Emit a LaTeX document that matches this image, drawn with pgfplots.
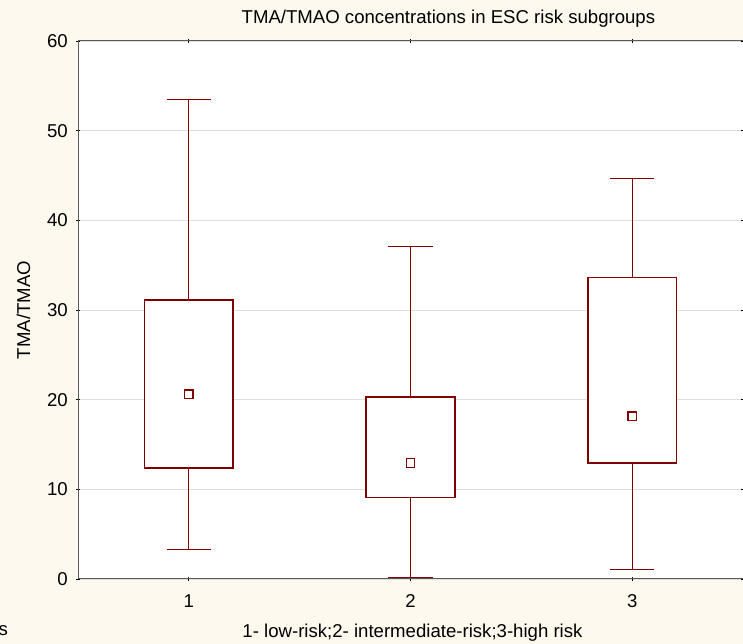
\documentclass[border=0pt]{standalone}
\usepackage{fontspec}
\setmainfont{Liberation Sans}
\usepackage{pgfplots}
\pgfplotsset{compat=1.18}
\usepgfplotslibrary{statistics}
\definecolor{bg}{RGB}{253,249,238}
\definecolor{boxred}{RGB}{128,0,0}
\definecolor{gridgray}{RGB}{222,222,222}
\definecolor{axgray}{RGB}{90,90,90}
\newcommand{\bigf}{\fontsize{18.6}{22}\selectfont}
\begin{document}
\begin{tikzpicture}
\fill[bg] (0,0) rectangle (743pt,644pt);
\begin{axis}[
  at={(78pt,65pt)}, anchor=south west,
  scale only axis, width=665pt, height=538pt,
  xmin=0.5, xmax=3.5, ymin=0, ymax=60,
  axis background/.style={fill=white},
  xtick={1,2,3}, ytick={0,10,...,60},
  ymajorgrids, grid style={gridgray, line width=0.8pt},
  axis line style={axgray, line width=1pt},
  tick style={black, line width=0.8pt},
  tick align=center, major tick length=4pt,
  /pgf/number format/assume math mode=true,
  tick label style={font=\bigf},
  xticklabel style={anchor=base, yshift=-26pt},
  yticklabel style={anchor=east, inner sep=0pt, xshift=-8pt},
  title={TMA/TMAO concentrations in ESC risk subgroups},
  title style={at={(axis description cs:0.557,1)}, anchor=base, yshift=11.5pt, font=\bigf},
  xlabel={1- low-risk;2- intermediate-risk;3-high risk},
  xlabel style={at={(axis description cs:0.503,0)}, anchor=base, yshift=-58.7pt, font=\bigf},
  ylabel={TMA/TMAO},
  ylabel style={at={(axis description cs:-0.072,0.5)}, anchor=base, font=\bigf},
  boxplot/draw direction=y,
  boxplot/every box/.style={draw=boxred, fill=white, line width=1.5pt},
  boxplot/every whisker/.style={draw=boxred, line width=0.9pt},
  boxplot/every median/.style={draw=none},
]
\addplot[boxred, boxplot prepared={draw position=1, lower whisker=3.3, lower quartile=12.4, median=20.6, upper quartile=31.1, upper whisker=53.5, box extend=0.4, whisker extend=0.2}] coordinates {};
\addplot[boxred, boxplot prepared={draw position=2, lower whisker=0.18, lower quartile=9.1, median=12.93, upper quartile=20.32, upper whisker=37.12, box extend=0.4, whisker extend=0.2}] coordinates {};
\addplot[boxred, boxplot prepared={draw position=3, lower whisker=1.08, lower quartile=12.94, median=18.14, upper quartile=33.6, upper whisker=44.69, box extend=0.4, whisker extend=0.2}] coordinates {};
\addplot[only marks, mark=square*, mark size=4.3pt, draw=boxred, fill=white, line width=1.3pt] coordinates {(1,20.6) (2,12.93) (3,18.14)};
\end{axis}
\node[anchor=base east, font=\bigf, inner sep=0pt] at (8pt,8pt) {s};
\pgfresetboundingbox
\useasboundingbox (0,0) rectangle (743pt,644pt);
\end{tikzpicture}
\end{document}
